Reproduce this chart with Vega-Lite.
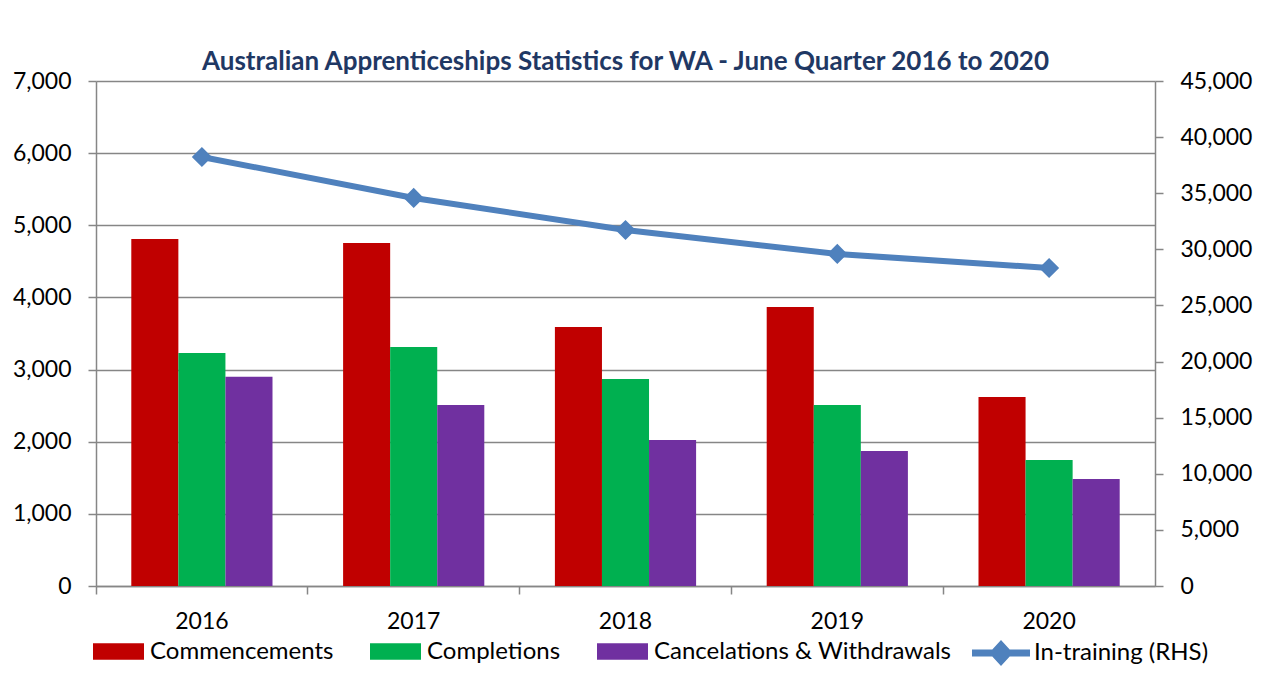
{
  "$schema": "https://vega.github.io/schema/vega-lite/v6.json",
  "width": 1059,
  "height": 505,
  "autosize": "none",
  "padding": {"left": 96, "top": 81, "right": 106, "bottom": 89},
  "background": "white",
  "config": {"font": "Lato", "view": {"stroke": null}},
  "title": {
    "text": "Australian Apprenticeships Statistics for WA - June Quarter  2016 to 2020",
    "font": "Lato", "fontSize": 26, "fontWeight": "bold", "color": "#1F3864",
    "anchor": "middle", "frame": "group", "offset": -5
  },
  "datasets": {
    "bars": [
      {"year": "2016", "series": "Commencements", "value": 4810},
      {"year": "2016", "series": "Completions", "value": 3230},
      {"year": "2016", "series": "Cancelations & Withdrawals", "value": 2900},
      {"year": "2017", "series": "Commencements", "value": 4755},
      {"year": "2017", "series": "Completions", "value": 3313},
      {"year": "2017", "series": "Cancelations & Withdrawals", "value": 2509},
      {"year": "2018", "series": "Commencements", "value": 3590},
      {"year": "2018", "series": "Completions", "value": 2870},
      {"year": "2018", "series": "Cancelations & Withdrawals", "value": 2024},
      {"year": "2019", "series": "Commencements", "value": 3867},
      {"year": "2019", "series": "Completions", "value": 2509},
      {"year": "2019", "series": "Cancelations & Withdrawals", "value": 1871},
      {"year": "2020", "series": "Commencements", "value": 2620},
      {"year": "2020", "series": "Completions", "value": 1747},
      {"year": "2020", "series": "Cancelations & Withdrawals", "value": 1483}
    ],
    "training": [
      {"year": "2016", "series": "In-training (RHS)", "value": 38230},
      {"year": "2017", "series": "In-training (RHS)", "value": 34580},
      {"year": "2018", "series": "In-training (RHS)", "value": 31720},
      {"year": "2019", "series": "In-training (RHS)", "value": 29590},
      {"year": "2020", "series": "In-training (RHS)", "value": 28340}
    ]
  },
  "layer": [
    {
      "data": {"name": "bars"},
      "mark": {"type": "bar"},
      "encoding": {
        "x": {
          "field": "year", "type": "nominal",
          "scale": {"paddingInner": 0, "paddingOuter": 0},
          "axis": {
            "orient": "bottom", "title": null, "labels": false, "bandPosition": 0,
            "ticks": true, "tickSize": 8, "tickColor": "#868686", "tickWidth": 1.5,
            "domain": true, "domainColor": "#868686", "domainWidth": 1.5, "grid": false
          }
        },
        "xOffset": {
          "field": "series", "type": "nominal",
          "sort": ["Commencements", "Completions", "Cancelations & Withdrawals"],
          "scale": {"paddingInner": 0, "paddingOuter": 0.75}
        },
        "y": {
          "field": "value", "type": "quantitative",
          "scale": {"domain": [0, 7000], "nice": false},
          "axis": {
            "title": null, "values": [0, 1000, 2000, 3000, 4000, 5000, 6000, 7000], "format": ",.0f",
            "grid": true, "gridColor": "#868686", "gridWidth": 1.5,
            "domainColor": "#868686", "domainWidth": 1.5,
            "tickColor": "#868686", "tickSize": 8, "tickWidth": 1.5,
            "labelFontSize": 23, "labelColor": "#000000", "labelPadding": 17
          }
        },
        "color": {
          "field": "series", "type": "nominal",
          "scale": {
            "domain": ["Commencements", "Completions", "Cancelations & Withdrawals"],
            "range": ["#C00000", "#00B050", "#7030A0"]
          },
          "legend": {
            "orient": "none", "legendX": -3, "legendY": 545, "direction": "horizontal",
            "title": null, "symbolType": "M-1,-0.32L1,-0.32L1,0.32L-1,0.32Z",
            "symbolSize": 2601, "symbolStrokeWidth": 0, "labelFontSize": 24,
            "labelColor": "#000000", "columnPadding": 36, "labelOffset": 6, "gridAlign": "none",
            "labelLimit": 500
          }
        }
      }
    },
    {
      "data": {"name": "training"},
      "mark": {
        "type": "line", "strokeWidth": 6, "color": "#4F81BD",
        "point": {"shape": "diamond", "size": 300, "filled": true, "color": "#4F81BD"}
      },
      "encoding": {
        "x": {
          "field": "year", "type": "nominal",
          "axis": {
            "orient": "bottom", "title": null, "labelAngle": 0, "ticks": false, "domain": false,
            "labelFontSize": 23, "labelColor": "#000000", "labelPadding": 24, "grid": false
          }
        },
        "y": {
          "field": "value", "type": "quantitative",
          "scale": {"domain": [0, 45000], "nice": false},
          "axis": {
            "orient": "right", "title": null,
            "values": [0, 5000, 10000, 15000, 20000, 25000, 30000, 35000, 40000, 45000], "format": ",.0f",
            "grid": false, "domainColor": "#868686", "domainWidth": 1.5,
            "tickColor": "#868686", "tickSize": 8, "tickWidth": 1.5,
            "labelFontSize": 23, "labelColor": "#000000", "labelPadding": 17
          }
        },
        "stroke": {
          "field": "series", "type": "nominal",
          "scale": {"domain": ["In-training (RHS)"], "range": ["#4F81BD"]},
          "legend": {
            "orient": "none", "legendX": 876, "legendY": 543, "title": null,
            "symbolType": "M-1,-0.12L-0.3,-0.12L0,-0.45L0.3,-0.12L1,-0.12L1,0.12L0.3,0.12L0,0.45L-0.3,0.12L-1,0.12Z",
            "symbolSize": 3364, "symbolFillColor": "#4F81BD", "symbolStrokeWidth": 0,
            "labelFontSize": 24, "labelColor": "#000000", "labelOffset": 4, "labelLimit": 500
          }
        }
      }
    }
  ],
  "resolve": {"scale": {"y": "independent"}, "axis": {"x": "independent"}}
}
